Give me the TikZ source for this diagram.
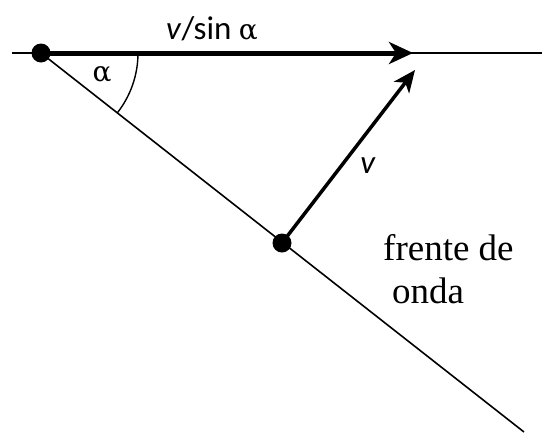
\documentclass[tikz,border=0pt]{standalone}
\usepackage{fontspec}
\setmainfont{Liberation Serif}
\newfontfamily\labelsans{Carlito}
\newfontfamily\greekserif{DejaVu Serif}
\usetikzlibrary{arrows.meta}
\begin{document}
\begin{tikzpicture}[x=1pt,y=1pt,
  dot/.style={circle,fill=black,inner sep=0pt,minimum size=19pt},
  thinline/.style={line width=1.6pt},
  bigarrow/.style={line width=5pt,-{Stealth[length=24pt,width=22pt,inset=7pt]}},
  varrow/.style={line width=3.5pt,-{Stealth[length=22pt,width=19pt,inset=6pt]}},
  sanslabel/.style={font=\labelsans\fontsize{33}{36}\selectfont,inner sep=0pt},
  seriflabel/.style={font=\fontsize{37}{40}\selectfont,inner sep=0pt,align=left}]
\useasboundingbox (0,0) rectangle (542,-432);
\begin{scope}
\clip (0,0) rectangle (542,-432);
\coordinate (L) at (12,-53);
\coordinate (R) at (542,-53);
\coordinate (E) at (524,-432);
\coordinate (T1) at (413,-53);
\coordinate (T2) at (415,-70);
\node[dot] (A) at (41,-53) {};
\node[dot] (B) at (282,-243) {};
\draw[thinline] (L) -- (R);
\draw[thinline] (A.center) -- (E);
\draw[bigarrow] (A.center) -- (T1);
\draw[varrow] (B.center) -- (T2);
\draw[line width=1.4pt] ([shift={(0:97)}]A.center) arc[start angle=0,end angle=-38.3,radius=97];
\end{scope}
\node[sanslabel] (vs) at (212,-29) {\textit{v}/sin {\greekserif\fontsize{28}{30}\selectfont α}};
\node[sanslabel] (v) at (368,-166) {\textit{v}};
\node[font=\greekserif\fontsize{28}{30}\selectfont,inner sep=0pt] (al) at (102,-74) {α};
\node[seriflabel,anchor=base west] (fr) at (383,-260) {frente de};
\node[seriflabel,anchor=base west] (on) at (392,-303) {onda};
\end{tikzpicture}
\end{document}
